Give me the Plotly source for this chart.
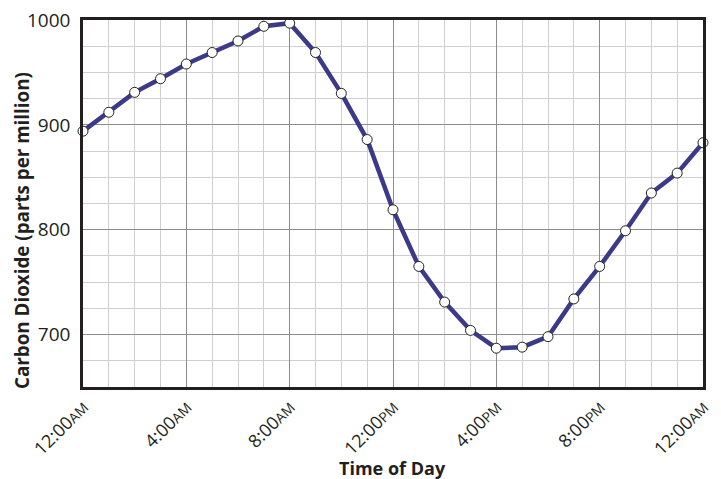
import plotly.graph_objects as go

hours = list(range(25))
co2 = [894, 912, 931, 944, 958, 969, 980, 994, 997, 969, 930, 886, 819, 765,
       731, 704, 687, 688, 698, 734, 765, 799, 835, 854, 883]
tick_hours = [0, 4, 8, 12, 16, 20, 24]
tick_times = ["12:00", "4:00", "8:00", "12:00", "4:00", "8:00", "12:00"]
tick_suffix = ["AM", "AM", "AM", "PM", "PM", "PM", "AM"]
y_ticks = [700, 800, 900, 1000]

FONT = "Open Sans"
ticktext = [f"{t}<span style='font-size:14px'>{s}</span>" for t, s in zip(tick_times, tick_suffix)]

# page body has an 8px default margin, so the figure is shifted by (8, 8)
OFF = 8

fig = go.Figure()
fig.add_trace(go.Scatter(
    x=hours, y=co2, mode="lines+markers",
    line=dict(color="#3c3a88", width=4.5),
    marker=dict(size=10, color="white", line=dict(color="#222222", width=1)),
    showlegend=False, cliponaxis=False,
))

fig.update_layout(
    width=721 - OFF, height=479 - OFF,
    margin=dict(l=83 - OFF, r=18, t=20 - OFF, b=92),
    paper_bgcolor="white", plot_bgcolor="white",
    font=dict(family=FONT, color="#231f20"),
    xaxis=dict(
        range=[0, 24], tickvals=tick_hours, ticktext=ticktext, tickangle=-45,
        tickfont=dict(size=18, family=FONT), automargin=False,
        ticklabeloverflow="allow",
        showgrid=True, gridcolor="#8c8c8c", gridwidth=1,
        minor=dict(dtick=1, showgrid=True, gridcolor="#cfcfd2", gridwidth=1.2),
        showline=True, linecolor="#231f20", linewidth=2.5, mirror=True,
        zeroline=False, ticks="",
    ),
    yaxis=dict(
        range=[650, 1000], tickvals=y_ticks, automargin=False,
        ticklabeloverflow="allow", ticklabelstandoff=6,
        tickfont=dict(size=19, family=FONT),
        showgrid=True, gridcolor="#8c8c8c", gridwidth=1,
        minor=dict(dtick=25, tick0=650, showgrid=True, gridcolor="#cfcfd2", gridwidth=1.2),
        showline=True, linecolor="#231f20", linewidth=2.5, mirror=True,
        zeroline=False, ticks="",
    ),
    annotations=[
        dict(text="<b>Time of Day</b>", xref="paper", yref="paper",
             x=(392 - 83) / 620, y=-(468 - 387) / 367, xanchor="center", yanchor="middle",
             showarrow=False, font=dict(size=18, family=FONT)),
        dict(text="<b>Carbon Dioxide (parts per million)</b>", xref="paper", yref="paper",
             x=-(83 - 22) / 620, y=(387 - 231) / 367, xanchor="center", yanchor="middle",
             textangle=-90, showarrow=False, font=dict(size=18.8, family=FONT)),
    ],
)

fig.write_html("out.html")
